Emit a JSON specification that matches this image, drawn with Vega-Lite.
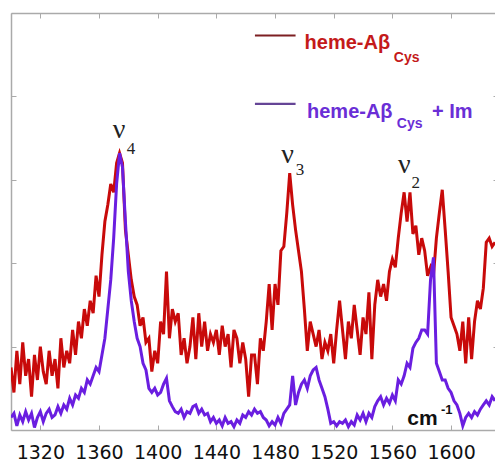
{
  "$schema": "https://vega.github.io/schema/vega-lite/v6.json",
  "width": 487,
  "height": 417,
  "autosize": {"type": "none"},
  "padding": {"left": 11, "top": 13, "right": 0, "bottom": 32},
  "background": "white",
  "config": {"view": {"stroke": null}},
  "datasets": {
    "heme": [
      {"wn":1300,"i":0.75},{"wn":1302,"i":0.45},{"wn":1304,"i":0.95},{"wn":1306,"i":0.55},{"wn":1308,"i":1.05},{"wn":1310,"i":0.65},{"wn":1312,"i":0.85},{"wn":1314,"i":0.4},{"wn":1316,"i":0.9},{"wn":1318,"i":0.6},
      {"wn":1320,"i":1.0},{"wn":1322,"i":0.7},{"wn":1324,"i":0.55},{"wn":1326,"i":0.95},{"wn":1328,"i":0.65},{"wn":1330,"i":0.85},{"wn":1332,"i":0.5},{"wn":1334,"i":1.1},{"wn":1336,"i":0.75},{"wn":1338,"i":0.95},
      {"wn":1340,"i":0.8},{"wn":1342,"i":1.2},{"wn":1344,"i":0.9},{"wn":1346,"i":1.3},{"wn":1348,"i":1.1},{"wn":1350,"i":1.45},{"wn":1352,"i":1.25},{"wn":1354,"i":1.55},{"wn":1356,"i":1.4},{"wn":1358,"i":1.85},
      {"wn":1360,"i":1.6},{"wn":1362,"i":2.1},{"wn":1364,"i":2.5},{"wn":1366,"i":2.7},{"wn":1368,"i":2.95},{"wn":1370,"i":2.85},{"wn":1372,"i":3.2},{"wn":1374,"i":3.32},{"wn":1376,"i":3.2},{"wn":1378,"i":2.4},
      {"wn":1380,"i":2.1},{"wn":1382,"i":1.8},{"wn":1384,"i":1.6},{"wn":1386,"i":1.5},{"wn":1388,"i":1.25},{"wn":1390,"i":1.35},{"wn":1392,"i":1.05},{"wn":1394,"i":1.1},{"wn":1396,"i":0.7},{"wn":1398,"i":0.95},
      {"wn":1400,"i":0.8},{"wn":1402,"i":1.3},{"wn":1404,"i":1.15},{"wn":1406,"i":1.9},{"wn":1408,"i":1.1},{"wn":1410,"i":1.45},{"wn":1412,"i":1.3},{"wn":1414,"i":1.4},{"wn":1416,"i":0.9},{"wn":1418,"i":1.1},
      {"wn":1420,"i":0.8},{"wn":1422,"i":1.0},{"wn":1424,"i":1.35},{"wn":1426,"i":0.85},{"wn":1428,"i":1.4},{"wn":1430,"i":1.0},{"wn":1432,"i":1.3},{"wn":1434,"i":0.95},{"wn":1436,"i":1.15},{"wn":1438,"i":1.05},
      {"wn":1440,"i":1.2},{"wn":1442,"i":0.9},{"wn":1444,"i":1.25},{"wn":1446,"i":1.0},{"wn":1448,"i":1.15},{"wn":1450,"i":0.75},{"wn":1452,"i":1.2},{"wn":1454,"i":1.1},{"wn":1456,"i":0.8},{"wn":1458,"i":1.05},
      {"wn":1460,"i":0.85},{"wn":1462,"i":0.4},{"wn":1464,"i":0.9},{"wn":1466,"i":0.9},{"wn":1468,"i":0.55},{"wn":1470,"i":1.1},{"wn":1472,"i":0.95},{"wn":1474,"i":1.3},{"wn":1476,"i":1.75},{"wn":1478,"i":1.2},
      {"wn":1480,"i":1.75},{"wn":1482,"i":1.5},{"wn":1484,"i":2.15},{"wn":1486,"i":2.2},{"wn":1488,"i":2.6},{"wn":1490,"i":3.08},{"wn":1492,"i":2.7},{"wn":1494,"i":2.4},{"wn":1496,"i":2.15},{"wn":1498,"i":1.9},
      {"wn":1500,"i":1.45},{"wn":1502,"i":0.95},{"wn":1504,"i":1.3},{"wn":1506,"i":1.15},{"wn":1508,"i":1.0},{"wn":1510,"i":1.2},{"wn":1512,"i":0.85},{"wn":1514,"i":1.05},{"wn":1516,"i":0.95},{"wn":1518,"i":1.15},
      {"wn":1520,"i":0.8},{"wn":1522,"i":1.2},{"wn":1524,"i":1.55},{"wn":1526,"i":1.2},{"wn":1528,"i":0.85},{"wn":1530,"i":1.3},{"wn":1532,"i":1.1},{"wn":1534,"i":1.5},{"wn":1536,"i":1.2},{"wn":1538,"i":0.9},
      {"wn":1540,"i":1.35},{"wn":1542,"i":1.15},{"wn":1544,"i":1.65},{"wn":1546,"i":0.85},{"wn":1548,"i":1.5},{"wn":1550,"i":1.8},{"wn":1552,"i":1.6},{"wn":1554,"i":1.75},{"wn":1556,"i":1.55},{"wn":1558,"i":1.9},
      {"wn":1560,"i":2.05},{"wn":1562,"i":1.95},{"wn":1564,"i":2.3},{"wn":1566,"i":2.6},{"wn":1568,"i":2.85},{"wn":1570,"i":2.5},{"wn":1572,"i":2.85},{"wn":1574,"i":2.35},{"wn":1576,"i":2.45},{"wn":1578,"i":2.1},
      {"wn":1580,"i":2.3},{"wn":1582,"i":2.15},{"wn":1584,"i":1.85},{"wn":1586,"i":1.95},{"wn":1588,"i":1.85},{"wn":1590,"i":2.3},{"wn":1592,"i":2.6},{"wn":1594,"i":2.88},{"wn":1596,"i":2.4},{"wn":1598,"i":1.9},
      {"wn":1600,"i":1.35},{"wn":1602,"i":1.25},{"wn":1604,"i":1.15},{"wn":1606,"i":0.95},{"wn":1608,"i":1.3},{"wn":1610,"i":0.8},{"wn":1612,"i":1.35},{"wn":1614,"i":0.85},{"wn":1616,"i":1.3},{"wn":1618,"i":1.55},
      {"wn":1620,"i":1.45},{"wn":1622,"i":1.7},{"wn":1624,"i":2.25},{"wn":1626,"i":2.3},{"wn":1628,"i":2.2},{"wn":1630,"i":2.25}
    ],
    "hemeIm": [
      {"wn":1300,"i":0.15},{"wn":1302,"i":0.2},{"wn":1304,"i":0.05},{"wn":1306,"i":0.18},{"wn":1308,"i":0.1},{"wn":1310,"i":0.22},{"wn":1312,"i":0.12},{"wn":1314,"i":0.2},{"wn":1316,"i":0.03},{"wn":1318,"i":0.15},
      {"wn":1320,"i":0.22},{"wn":1322,"i":0.1},{"wn":1324,"i":0.2},{"wn":1326,"i":0.25},{"wn":1328,"i":0.15},{"wn":1330,"i":0.18},{"wn":1332,"i":0.28},{"wn":1334,"i":0.2},{"wn":1336,"i":0.3},{"wn":1338,"i":0.25},
      {"wn":1340,"i":0.38},{"wn":1342,"i":0.3},{"wn":1344,"i":0.42},{"wn":1346,"i":0.38},{"wn":1348,"i":0.5},{"wn":1350,"i":0.45},{"wn":1352,"i":0.6},{"wn":1354,"i":0.55},{"wn":1356,"i":0.65},{"wn":1358,"i":0.75},
      {"wn":1360,"i":0.7},{"wn":1362,"i":0.9},{"wn":1364,"i":1.1},{"wn":1366,"i":1.45},{"wn":1368,"i":1.8},{"wn":1370,"i":2.3},{"wn":1372,"i":2.95},{"wn":1374,"i":3.32},{"wn":1376,"i":3.15},{"wn":1378,"i":2.5},
      {"wn":1380,"i":1.9},{"wn":1382,"i":1.55},{"wn":1384,"i":1.3},{"wn":1386,"i":1.1},{"wn":1388,"i":1.0},{"wn":1390,"i":0.8},{"wn":1392,"i":0.72},{"wn":1394,"i":0.5},{"wn":1396,"i":0.45},{"wn":1398,"i":0.5},
      {"wn":1400,"i":0.42},{"wn":1402,"i":0.45},{"wn":1404,"i":0.55},{"wn":1406,"i":0.62},{"wn":1408,"i":0.35},{"wn":1410,"i":0.28},{"wn":1412,"i":0.22},{"wn":1414,"i":0.2},{"wn":1416,"i":0.25},{"wn":1418,"i":0.15},
      {"wn":1420,"i":0.22},{"wn":1422,"i":0.2},{"wn":1424,"i":0.28},{"wn":1426,"i":0.3},{"wn":1428,"i":0.2},{"wn":1430,"i":0.25},{"wn":1432,"i":0.18},{"wn":1434,"i":0.2},{"wn":1436,"i":0.1},{"wn":1438,"i":0.15},
      {"wn":1440,"i":0.08},{"wn":1442,"i":0.12},{"wn":1444,"i":0.05},{"wn":1446,"i":0.15},{"wn":1448,"i":0.08},{"wn":1450,"i":0.1},{"wn":1452,"i":0.04},{"wn":1454,"i":0.12},{"wn":1456,"i":0.08},{"wn":1458,"i":0.18},
      {"wn":1460,"i":0.15},{"wn":1462,"i":0.22},{"wn":1464,"i":0.18},{"wn":1466,"i":0.25},{"wn":1468,"i":0.2},{"wn":1470,"i":0.22},{"wn":1472,"i":0.15},{"wn":1474,"i":0.12},{"wn":1476,"i":0.05},{"wn":1478,"i":0.1},
      {"wn":1480,"i":0.06},{"wn":1482,"i":0.15},{"wn":1484,"i":0.08},{"wn":1486,"i":0.2},{"wn":1488,"i":0.25},{"wn":1490,"i":0.3},{"wn":1492,"i":0.65},{"wn":1494,"i":0.3},{"wn":1496,"i":0.45},{"wn":1498,"i":0.55},
      {"wn":1500,"i":0.6},{"wn":1502,"i":0.5},{"wn":1504,"i":0.65},{"wn":1506,"i":0.72},{"wn":1508,"i":0.75},{"wn":1510,"i":0.6},{"wn":1512,"i":0.5},{"wn":1514,"i":0.4},{"wn":1516,"i":0.25},{"wn":1518,"i":0.08},
      {"wn":1520,"i":0.1},{"wn":1522,"i":0.05},{"wn":1524,"i":0.1},{"wn":1526,"i":0.08},{"wn":1528,"i":0.12},{"wn":1530,"i":0.04},{"wn":1532,"i":0.1},{"wn":1534,"i":0.06},{"wn":1536,"i":0.18},{"wn":1538,"i":0.12},
      {"wn":1540,"i":0.2},{"wn":1542,"i":0.1},{"wn":1544,"i":0.2},{"wn":1546,"i":0.15},{"wn":1548,"i":0.28},{"wn":1550,"i":0.35},{"wn":1552,"i":0.4},{"wn":1554,"i":0.3},{"wn":1556,"i":0.38},{"wn":1558,"i":0.32},
      {"wn":1560,"i":0.42},{"wn":1562,"i":0.35},{"wn":1564,"i":0.6},{"wn":1566,"i":0.55},{"wn":1568,"i":0.65},{"wn":1570,"i":0.8},{"wn":1572,"i":0.75},{"wn":1574,"i":0.98},{"wn":1576,"i":1.05},{"wn":1578,"i":1.1},
      {"wn":1580,"i":1.2},{"wn":1582,"i":1.2},{"wn":1584,"i":1.15},{"wn":1586,"i":1.8},{"wn":1588,"i":2.07},{"wn":1590,"i":0.8},{"wn":1592,"i":0.7},{"wn":1594,"i":0.6},{"wn":1596,"i":0.6},{"wn":1598,"i":0.5},
      {"wn":1600,"i":0.45},{"wn":1602,"i":0.35},{"wn":1604,"i":0.3},{"wn":1606,"i":0.2},{"wn":1608,"i":0.05},{"wn":1610,"i":0.15},{"wn":1612,"i":0.2},{"wn":1614,"i":0.15},{"wn":1616,"i":0.22},{"wn":1618,"i":0.18},
      {"wn":1620,"i":0.25},{"wn":1622,"i":0.3},{"wn":1624,"i":0.35},{"wn":1626,"i":0.3},{"wn":1628,"i":0.4},{"wn":1630,"i":0.35}
    ],
    "greek": [
      {"wn":1373.6,"y":3.5,"t":"ν"},{"wn":1488.5,"y":3.2,"t":"ν"},{"wn":1568.2,"y":3.08,"t":"ν"}
    ],
    "greekSub": [
      {"wn":1381.8,"y":3.31,"t":"4"},{"wn":1497,"y":3.06,"t":"3"},{"wn":1576,"y":2.9,"t":"2"}
    ],
    "unit": [{"wn":1580.5,"y":0.06,"t":"cm"}],
    "unitSup": [{"wn":1597,"y":0.19,"t":"-1"}],
    "legend1": [
      {"wn":1466.3,"wn2":1494,"y":4.73,"t":"heme-Aβ","sub":"Cys","wnSub":1561,"ySub":4.41}
    ],
    "legend2": [
      {"wn":1466.3,"wn2":1494,"y":3.91,"yText":3.74,"wnText":1501.8,"t":"heme-Aβ","sub":"Cys","wnSub":1563,"ySub":3.62,"extra":"+ Im","wnExtra":1587}
    ]
  },
  "resolve": {"axis": {"x": "independent", "y": "independent"}},
  "layer": [
    {
      "data": {"name": "heme"},
      "mark": {"type": "line", "color": "#c80a0a", "strokeWidth": 3, "clip": true},
      "encoding": {
        "x": {"field": "wn", "type": "quantitative",
              "scale": {"domain": [1300, 1632], "nice": false, "zero": false},
              "axis": {"orient": "bottom", "values": [1320,1360,1400,1440,1480,1520,1560,1600], "format": "d", "title": null, "grid": false,
                       "domainColor": "#aaaaaa", "domainWidth": 1.5, "tickColor": "#aaaaaa", "tickSize": -5, "tickWidth": 1,
                       "labelFont": "DejaVu Sans", "labelFontSize": 19, "labelColor": "#111111", "labelPadding": 18, "labelFlush": false}},
        "y": {"field": "i", "type": "quantitative",
              "scale": {"domain": [0, 5], "nice": false, "zero": false},
              "axis": {"orient": "left", "values": [0,1,2,3,4,5], "labels": false, "title": null, "grid": false,
                       "domainColor": "#aaaaaa", "domainWidth": 1.5, "tickColor": "#aaaaaa", "tickSize": -5}}
      }
    },
    {
      "data": {"name": "hemeIm"},
      "mark": {"type": "line", "color": "#6a1ee0", "strokeWidth": 3, "clip": true},
      "encoding": {
        "x": {"field": "wn", "type": "quantitative",
              "axis": {"orient": "top", "values": [1320,1360,1400,1440,1480,1520,1560,1600], "labels": false, "title": null, "grid": false,
                       "domainColor": "#aaaaaa", "domainWidth": 1.5, "tickColor": "#aaaaaa", "tickSize": -5}},
        "y": {"field": "i", "type": "quantitative",
              "axis": {"orient": "right", "values": [0,1,2,3,4,5], "labels": false, "title": null, "grid": false,
                       "domainColor": "#aaaaaa", "domainWidth": 1.5, "tickColor": "#aaaaaa", "tickSize": -5}}
      }
    },
    {
      "data": {"name": "legend1"},
      "mark": {"type": "rule", "strokeWidth": 2.2, "color": "#7d1f22"},
      "encoding": {"x": {"field": "wn", "type": "quantitative", "axis": null}, "x2": {"field": "wn2"}, "y": {"field": "y", "type": "quantitative", "axis": null}}
    },
    {
      "data": {"name": "legend2"},
      "mark": {"type": "rule", "strokeWidth": 2.2, "color": "#654596"},
      "encoding": {"x": {"field": "wn", "type": "quantitative", "axis": null}, "x2": {"field": "wn2"}, "y": {"field": "y", "type": "quantitative", "axis": null}}
    },
    {
      "data": {"name": "legend1"},
      "mark": {"type": "text", "align": "left", "baseline": "alphabetic", "font": "Liberation Sans", "fontWeight": "bold", "fontSize": 20, "color": "#c41a1a", "dy": 0},
      "encoding": {"x": {"field": "wn2", "type": "quantitative", "axis": null}, "y": {"field": "y", "type": "quantitative", "axis": null}, "text": {"field": "t"}, "xOffset": {"value": 9}, "yOffset": {"value": 13}}
    },
    {
      "data": {"name": "legend1"},
      "mark": {"type": "text", "align": "left", "baseline": "alphabetic", "font": "Liberation Sans", "fontWeight": "bold", "fontSize": 14, "color": "#c41a1a"},
      "encoding": {"x": {"field": "wnSub", "type": "quantitative", "axis": null}, "y": {"field": "ySub", "type": "quantitative", "axis": null}, "text": {"field": "sub"}}
    },
    {
      "data": {"name": "legend2"},
      "mark": {"type": "text", "align": "left", "baseline": "alphabetic", "font": "Liberation Sans", "fontWeight": "bold", "fontSize": 20, "color": "#6a2ed6"},
      "encoding": {"x": {"field": "wnText", "type": "quantitative", "axis": null}, "y": {"field": "yText", "type": "quantitative", "axis": null}, "text": {"field": "t"}}
    },
    {
      "data": {"name": "legend2"},
      "mark": {"type": "text", "align": "left", "baseline": "alphabetic", "font": "Liberation Sans", "fontWeight": "bold", "fontSize": 14, "color": "#6a2ed6"},
      "encoding": {"x": {"field": "wnSub", "type": "quantitative", "axis": null}, "y": {"field": "ySub", "type": "quantitative", "axis": null}, "text": {"field": "sub"}}
    },
    {
      "data": {"name": "legend2"},
      "mark": {"type": "text", "align": "left", "baseline": "alphabetic", "font": "Liberation Sans", "fontWeight": "bold", "fontSize": 20, "color": "#6a2ed6"},
      "encoding": {"x": {"field": "wnExtra", "type": "quantitative", "axis": null}, "y": {"field": "yText", "type": "quantitative", "axis": null}, "text": {"field": "extra"}}
    },
    {
      "data": {"name": "greek"},
      "mark": {"type": "text", "align": "center", "baseline": "alphabetic", "font": "Liberation Serif", "fontSize": 28, "color": "#222222"},
      "encoding": {"x": {"field": "wn", "type": "quantitative", "axis": null}, "y": {"field": "y", "type": "quantitative", "axis": null}, "text": {"field": "t"}}
    },
    {
      "data": {"name": "greekSub"},
      "mark": {"type": "text", "align": "center", "baseline": "alphabetic", "font": "Liberation Serif", "fontSize": 17, "color": "#222222"},
      "encoding": {"x": {"field": "wn", "type": "quantitative", "axis": null}, "y": {"field": "y", "type": "quantitative", "axis": null}, "text": {"field": "t"}}
    },
    {
      "data": {"name": "unit"},
      "mark": {"type": "text", "align": "center", "baseline": "alphabetic", "font": "Liberation Sans", "fontWeight": "bold", "fontSize": 21, "color": "#111111"},
      "encoding": {"x": {"field": "wn", "type": "quantitative", "axis": null}, "y": {"field": "y", "type": "quantitative", "axis": null}, "text": {"field": "t"}}
    },
    {
      "data": {"name": "unitSup"},
      "mark": {"type": "text", "align": "center", "baseline": "alphabetic", "font": "Liberation Sans", "fontWeight": "bold", "fontSize": 13, "color": "#111111"},
      "encoding": {"x": {"field": "wn", "type": "quantitative", "axis": null}, "y": {"field": "y", "type": "quantitative", "axis": null}, "text": {"field": "t"}}
    }
  ]
}
